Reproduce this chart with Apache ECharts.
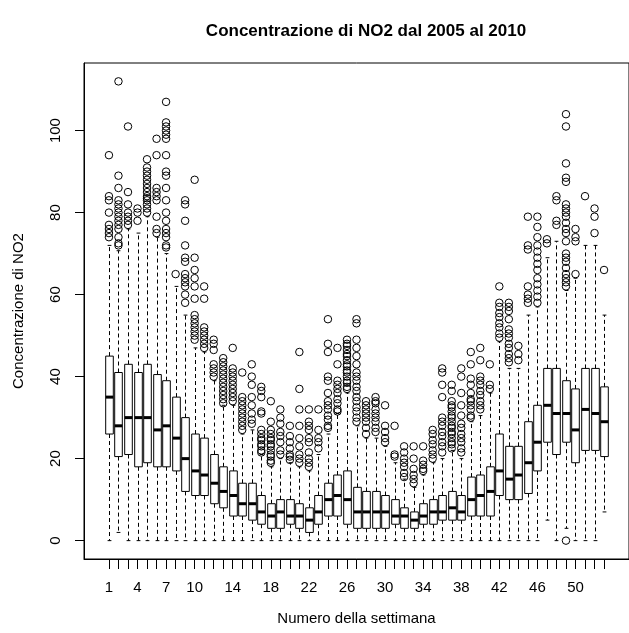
<!DOCTYPE html>
<html>
<head>
<meta charset="utf-8">
<script src="https://cdn.jsdelivr.net/npm/echarts@6/dist/echarts.min.js"></script>
<style>html,body{margin:0;padding:0;background:#fff}#chart{width:629px;height:633px}</style>
</head>
<body>
<div id="chart"></div>
<script>
var weeks = [];
for (var k = 1; k <= 53; k++) weeks.push(k);
var xTickLabels = [1, 4, 7, 10, 14, 18, 22, 26, 30, 34, 38, 42, 46, 50];
var yTickLabels = [0, 20, 40, 60, 80, 100];

var whiskerLow = [0,2,0,0,0,0,0,0,0,0, 0,0,0,0,0,0,0,0,0,0, 0,0,0,0,0,0,0,0,0,0, 0,0,0,0,0,0,0,0,0,0, 0,0,0,0,0,0,5,0,3,0, 0,0,7];
var q1 = [26,20.5,21,18,19,18,18,17,12,11, 11,9,8,6,6,5,4,3,3,4, 3,2,4,6,6,4,3,3,3,3, 4,3,3,4,4,5,5,5,6,6, 6,11,10,10,11.5,17,24,21,24,19, 22,22,20.5];
var median = [35,28,30,30,30,27,28,25,20,17, 16,14,12,11,9,9,7,6,7,6, 6,5,7,10,11,10,7,7,7,7, 6,6,5,6,7,7,8,7,10,11, 12,17,15,16,19,24,33,31,31,27, 32,31,29];
var q3 = [45,41,43,41,43,40.5,39,35,30,26, 25,21,18,17,14,14,11,9,10,10, 9,8,11,14,16,17,13,12,12,11, 10,8,7,9,10,11,12,11,15.5,16, 18,26,23,23,29,33,42,42,39,37, 42,42,37.5];
var whiskerHigh = [72,70.7,76,75,79,74,70,62,55,47, 46,39,33,33,26,27,21,18,20,19, 18,17,21,26,31,36,28,25,25,23, 19,15,13,16,19,20,22,20,29,30.5, 36,48.5,42,42,55,57,69,73,61,64, 72,72,55];

var outliers = [
  [94,84,83,80,77,76,75,74],
  [112,89,86,83,82,81,80,79,78,77,76,74,72.5,72],
  [101,85,82,80,79,78,77],
  [81,80,78],
  [93,91,90,89,88,87,86,85,84,83.5,83,82,81,80],
  [98,94,86,85,84,83,79,76,75],
  [107,102,101,100,99,98,94,90,89,86,83,80,78,76,75,74,72,71.5],
  [65],
  [83,82,78,72,69,68,65,64,63,62,60,58],
  [88,69,66,64,62,59,55,54,53,52,51,50,49],
  [62,59,52,51,50,49,48,47],
  [49,48,46.5,43,42,41,40],
  [44.5,43.5,42.5,41.5,40.5,39.5,38.5,37.5,36.5,35.5,34.5,33.5],
  [47,42,41,40,39,38,37,36,35,34],
  [41,35,34,33,32,31,30,29,28,27],
  [43,40,38,35,33,31,29.5,28.5],
  [37.5,36.5,35,31.5,31,27,26,25,24.5,23.5,23,22,21.5],
  [34,29,27,26,25,24.5,23.5,23,22,21,20.5,19.5,19],
  [32,30,28.5,26.5,25.5,24,22,21],
  [28,25.5,24,22.5,21,20.5,19.7],
  [46,37,32,28,25,23,21,20,19],
  [32,29,28,27,25,24,21.5,20,19,18],
  [32,27,25,24,22.5],
  [54,48,46,40,39,36,34,33,32,30.5,29.5,28,27.5],
  [47,43,39,38,37,36,34.5,33.5,32,31.5],
  [49,48,47.5,46.5,45.5,45,44,43,42.5,41.5,41,40,39,38.5,37.5,37],
  [54,53,49,47,45,43,41,40,39,37.5,36.5,35,34,32.5,31.5,30,29],
  [34,33,32,31,30,29,27.5,26],
  [35,34,33.5,32,31,30,29,27.5,26.5],
  [33,28,26.5,25,24],
  [28,21,20.5],
  [23,21.5,20,19,18,16.5,15.5],
  [23,20,17.5,16,15,14],
  [23,19.5,18.5,17.5,17],
  [27,26,24.5,23.5,22,21,20],
  [42,41,38,35,30,29,28,26.5,25.5,24,23,21.5],
  [38,36.5,34,33,32.5,31.5,30.5,30,29,28,27.5,26.5,26,25,24,23.5,22.5],
  [42,40,36,33,30.5,28.5,27.5,26,25,24,22.5,21.5],
  [46,43,39.5,38,36,34.5,34,33,32,30.5,30],
  [47,44,40,39,38,36.5,35.5,34,33,32],
  [43,38,37],
  [62,58,57,55.5,54.5,53,52,50.5,49.5],
  [58,57,56,54,51.5,50.5,49.5,48,47,45.5,44.5,43.5],
  [47.5,45.5,44],
  [79,72,71,62,60,59,58],
  [79,76.5,74,72,70.5,69,67.5,66,64,62.5,61,59.5,58],
  [73.5,72.5],
  [84,83,78,77],
  [104,101,92,88.5,87.5,82,81,80,79,77.5,76,75,73,70,69,68,66.5,65,64,63,62,0],
  [76,74,73,65],
  [84],
  [81,79,75],
  [66]
];

var boxData = weeks.map(function (w, i) {
  return [w, whiskerLow[i], q1[i], median[i], q3[i], whiskerHigh[i]];
});
var outlierData = [];
weeks.forEach(function (w, i) {
  outliers[i].forEach(function (v) { outlierData.push([w, v]); });
});

var FONT = 'Liberation Sans, Arial, Helvetica, sans-serif';
var chart = echarts.init(document.getElementById('chart'), null, {renderer: 'canvas'});

function renderBox(params, api) {
  var x = api.value(0);
  var pLo = api.coord([x, api.value(1)]);
  var pQ1 = api.coord([x, api.value(2)]);
  var pMed = api.coord([x, api.value(3)]);
  var pQ3 = api.coord([x, api.value(4)]);
  var pHi = api.coord([x, api.value(5)]);
  var half = api.coord([x + 0.4, 0])[0] - api.coord([x, 0])[0];
  var staple = half / 2;
  var cx = Math.round(pLo[0]) + 0.5;
  var black = '#000';
  return {
    type: 'group',
    children: [
      {type: 'line', shape: {x1: cx, y1: pQ3[1], x2: cx, y2: pHi[1]}, style: {stroke: black, lineWidth: 1, lineDash: [4, 3]}},
      {type: 'line', shape: {x1: cx, y1: pQ1[1], x2: cx, y2: pLo[1]}, style: {stroke: black, lineWidth: 1, lineDash: [4, 3]}},
      {type: 'line', shape: {x1: cx - staple, y1: pHi[1], x2: cx + staple, y2: pHi[1]}, style: {stroke: black, lineWidth: 1}},
      {type: 'line', shape: {x1: cx - staple, y1: pLo[1], x2: cx + staple, y2: pLo[1]}, style: {stroke: black, lineWidth: 1}},
      {type: 'rect', shape: {x: cx - half, y: pQ3[1], width: 2 * half, height: pQ1[1] - pQ3[1]}, style: {fill: '#fff', stroke: black, lineWidth: 1}},
      {type: 'line', shape: {x1: cx - half, y1: pMed[1], x2: cx + half, y2: pMed[1]}, style: {stroke: black, lineWidth: 3}}
    ]
  };
}

chart.setOption({
  animation: false,
  backgroundColor: '#fff',
  title: {
    text: 'Concentrazione di NO2 dal 2005 al 2010',
    left: 361, top: 18, textAlign: 'center',
    textStyle: {fontFamily: FONT, fontSize: 17, fontWeight: 'bold', color: '#000'}
  },
  grid: {
    left: 84, top: 63, width: 554, height: 496,
    show: true, borderColor: '#000', borderWidth: 1, backgroundColor: 'transparent'
  },
  xAxis: {
    type: 'value', min: -1.62, max: 55.62,
    name: 'Numero della settimana', nameLocation: 'middle', nameGap: 52,
    nameTextStyle: {fontFamily: FONT, fontSize: 15, color: '#000'},
    axisLine: {show: true, onZero: false, lineStyle: {color: '#000', width: 1}},
    axisTick: {show: true, customValues: weeks, length: 10, lineStyle: {color: '#000'}},
    axisLabel: {customValues: xTickLabels, margin: 21, fontFamily: FONT, fontSize: 15, color: '#000'},
    splitLine: {show: false}
  },
  yAxis: {
    type: 'value', min: -4.48, max: 116.48,
    name: 'Concentrazione di NO2', nameLocation: 'middle', nameGap: 58,
    nameTextStyle: {fontFamily: FONT, fontSize: 15, color: '#000'},
    axisLine: {show: true, onZero: false, lineStyle: {color: '#000', width: 1}},
    axisTick: {show: true, customValues: yTickLabels, length: 9, lineStyle: {color: '#000'}},
    axisLabel: {customValues: yTickLabels, rotate: 90, margin: 21, fontFamily: FONT, fontSize: 15, color: '#000'},
    splitLine: {show: false}
  },
  series: [
    {
      type: 'custom', name: 'box', renderItem: renderBox, data: boxData,
      encode: {x: 0, y: [1, 2, 3, 4, 5]}, z: 2
    },
    {
      type: 'scatter', name: 'outliers', data: outlierData, symbol: 'circle', symbolSize: 7.5,
      itemStyle: {color: 'rgba(0,0,0,0)', borderColor: '#000', borderWidth: 1, opacity: 1},
      z: 3
    }
  ]
});
</script>
</body>
</html>
